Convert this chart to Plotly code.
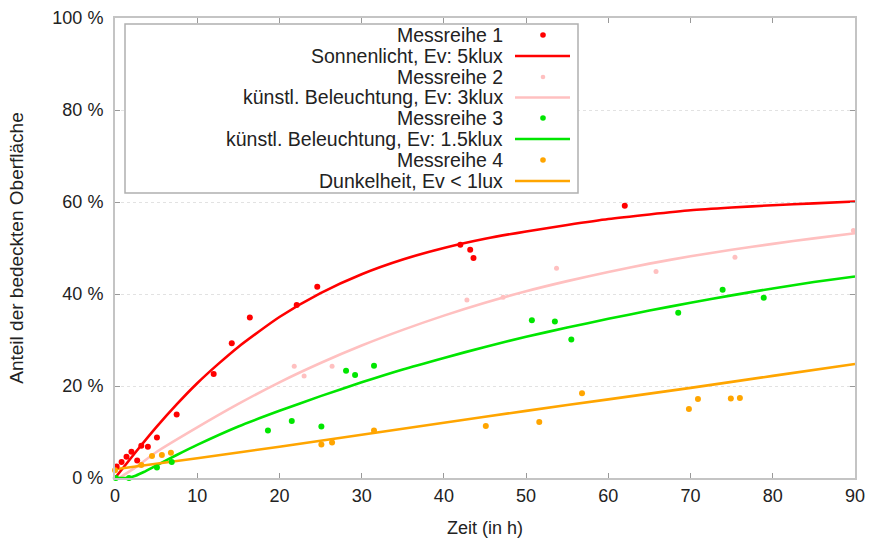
import plotly.graph_objects as go

# ---- measured points ----
m1_x = [0.2, 0.8, 1.4, 2.0, 2.7, 3.2, 4.0, 5.1, 7.5, 12.0, 14.2, 16.4, 22.1, 24.6, 42.0, 43.2, 43.6, 62.0]
m1_y = [2.5, 3.5, 4.6, 5.7, 3.8, 7.0, 6.8, 8.8, 13.8, 22.6, 29.3, 34.9, 37.6, 41.6, 50.7, 49.6, 47.8, 59.2]

m2_x = [21.8, 23.0, 26.4, 42.8, 47.2, 53.7, 65.8, 75.4, 89.8]
m2_y = [24.3, 22.2, 24.3, 38.7, 39.3, 45.6, 44.9, 48.0, 53.8]

m3_x = [0.1, 1.7, 5.1, 6.9, 18.6, 21.5, 25.1, 28.1, 29.2, 31.5, 50.7, 53.5, 55.5, 68.5, 73.9, 78.9]
m3_y = [0.0, 0.0, 2.3, 3.5, 10.3, 12.4, 11.2, 23.3, 22.4, 24.4, 34.3, 34.0, 30.1, 35.9, 40.9, 39.2]

m4_x = [0.0, 3.2, 4.5, 5.7, 6.8, 25.1, 26.4, 31.5, 45.1, 51.6, 56.8, 69.8, 70.9, 74.9, 76.0]
m4_y = [1.7, 2.8, 4.8, 5.0, 5.5, 7.3, 7.7, 10.3, 11.3, 12.2, 18.4, 15.0, 17.2, 17.3, 17.4]

# ---- fitted curves ----
c1_x = [0, 2.5, 5, 7.5, 10, 12.5, 15, 20, 25, 30, 35, 40, 45, 50, 55, 60, 65, 70, 75, 80, 85, 90]
c1_y = [0.0, 5.6, 11.0, 16.0, 20.6, 24.7, 28.5, 35.0, 40.2, 44.3, 47.5, 50.0, 52.0, 53.6, 55.0, 56.3, 57.3, 58.2, 58.8, 59.3, 59.7, 60.1]

c2_x = [0.5, 2.5, 5, 10, 15, 20, 25, 30, 35, 40, 45, 50, 55, 60, 65, 70, 75, 80, 85, 90]
c2_y = [0.0, 2.3, 5.6, 11.0, 16.1, 20.8, 25.0, 28.8, 32.2, 35.3, 38.1, 40.6, 42.8, 44.8, 46.6, 48.2, 49.6, 50.9, 52.1, 53.2]

c3_x = [0, 1.5, 2.5, 3.5, 5, 7.5, 10, 15, 20, 25, 30, 35, 40, 45, 50, 55, 60, 65, 70, 75, 80, 85, 90]
c3_y = [0.0, 0.0, 0.5, 1.3, 2.7, 5.0, 7.2, 11.2, 14.6, 17.8, 20.8, 23.6, 26.1, 28.5, 30.7, 32.7, 34.6, 36.4, 38.1, 39.7, 41.2, 42.6, 43.8]

c4_x = [0, 10, 20, 30, 40, 50, 60, 70, 80, 90]
c4_y = [1.9, 4.3, 6.8, 9.4, 12.0, 14.6, 17.1, 19.6, 22.2, 24.8]

labels = ["Messreihe 1", "Sonnenlicht, Ev: 5klux",
          "Messreihe 2", "künstl. Beleuchtung, Ev: 3klux",
          "Messreihe 3", "künstl. Beleuchtung, Ev: 1.5klux",
          "Messreihe 4", "Dunkelheit, Ev < 1lux"]

RED, PINK, GREEN, ORANGE = "#ff0000", "#ffc0c0", "#00e600", "#ffa500"

series = [
    (m1_x, m1_y, c1_x, c1_y, RED, 6),
    (m2_x, m2_y, c2_x, c2_y, PINK, 5),
    (m3_x, m3_y, c3_x, c3_y, GREEN, 6),
    (m4_x, m4_y, c4_x, c4_y, ORANGE, 6),
]

fig = go.Figure()
for mx, my, cx, cy, col, ms in series:
    fig.add_trace(go.Scatter(x=cx, y=cy, mode="lines",
                             line=dict(color=col, width=2.6, shape="spline", smoothing=0.6),
                             showlegend=False, hoverinfo="skip"))
for mx, my, cx, cy, col, ms in series:
    fig.add_trace(go.Scatter(x=mx, y=my, mode="markers", marker=dict(color=col, size=ms),
                             cliponaxis=False, showlegend=False))

# plot area in pixels
L, R, T, B = 115, 855, 18, 478
W, H = R - L, B - T
def px(x):
    return (x - L) / W
def py(y):
    return (B - y) / H

FONT = "Liberation Sans, Arial, sans-serif"
shapes = []
annotations = []
# legend box
shapes.append(dict(type="rect", xref="paper", yref="paper", x0=px(125), x1=px(578), y0=py(193), y1=py(24),
                   line=dict(color="#b0b0b0", width=1.5), fillcolor="white", layer="above"))
rows = [35, 56, 77, 97.5, 118, 139, 160, 181]
cols = [RED, RED, PINK, PINK, GREEN, GREEN, ORANGE, ORANGE]
for i, (lab, yy, col) in enumerate(zip(labels, rows, cols)):
    annotations.append(dict(xref="paper", yref="paper", x=px(505), y=py(yy), xanchor="right", yanchor="middle",
                            text=lab, showarrow=False, font=dict(family=FONT, size=19.5, color="#222222")))
    if i % 2 == 0:
        r = 2.8 if col != PINK else 2.3
        shapes.append(dict(type="circle", xref="paper", yref="paper", x0=px(543 - r), x1=px(543 + r),
                           y0=py(yy + r), y1=py(yy - r), fillcolor=col, line=dict(width=0), layer="above"))
    else:
        shapes.append(dict(type="line", xref="paper", yref="paper", x0=px(515), x1=px(570),
                           y0=py(yy), y1=py(yy), line=dict(color=col, width=2.6), layer="above"))

fig.update_layout(
    width=879, height=539,
    margin=dict(l=L, r=879 - R, t=T, b=539 - B, autoexpand=False),
    paper_bgcolor="white", plot_bgcolor="white",
    font=dict(family=FONT, size=18, color="#222222"),
    shapes=shapes, annotations=annotations,
    xaxis=dict(range=[0, 90], dtick=10, tick0=0, showgrid=False, zeroline=False, automargin=False,
               showline=True, linecolor="#c4c4c4", linewidth=2, mirror="ticks",
               ticks="inside", ticklen=5, tickcolor="#999999",
               title=dict(text="Zeit (in h)", font=dict(size=18), standoff=17)),
    yaxis=dict(range=[0, 100], dtick=20, tick0=0, ticksuffix=" %", showgrid=True, automargin=False,
               gridcolor="#e2e2e2", griddash="dot", gridwidth=1, zeroline=False,
               showline=True, linecolor="#c4c4c4", linewidth=2, mirror="ticks",
               ticks="inside", ticklen=5, tickcolor="#999999", ticklabelstandoff=6,
               title=dict(text="Anteil der bedeckten Oberfläche", font=dict(size=19), standoff=24)),
)

fig.write_html("out.html")
